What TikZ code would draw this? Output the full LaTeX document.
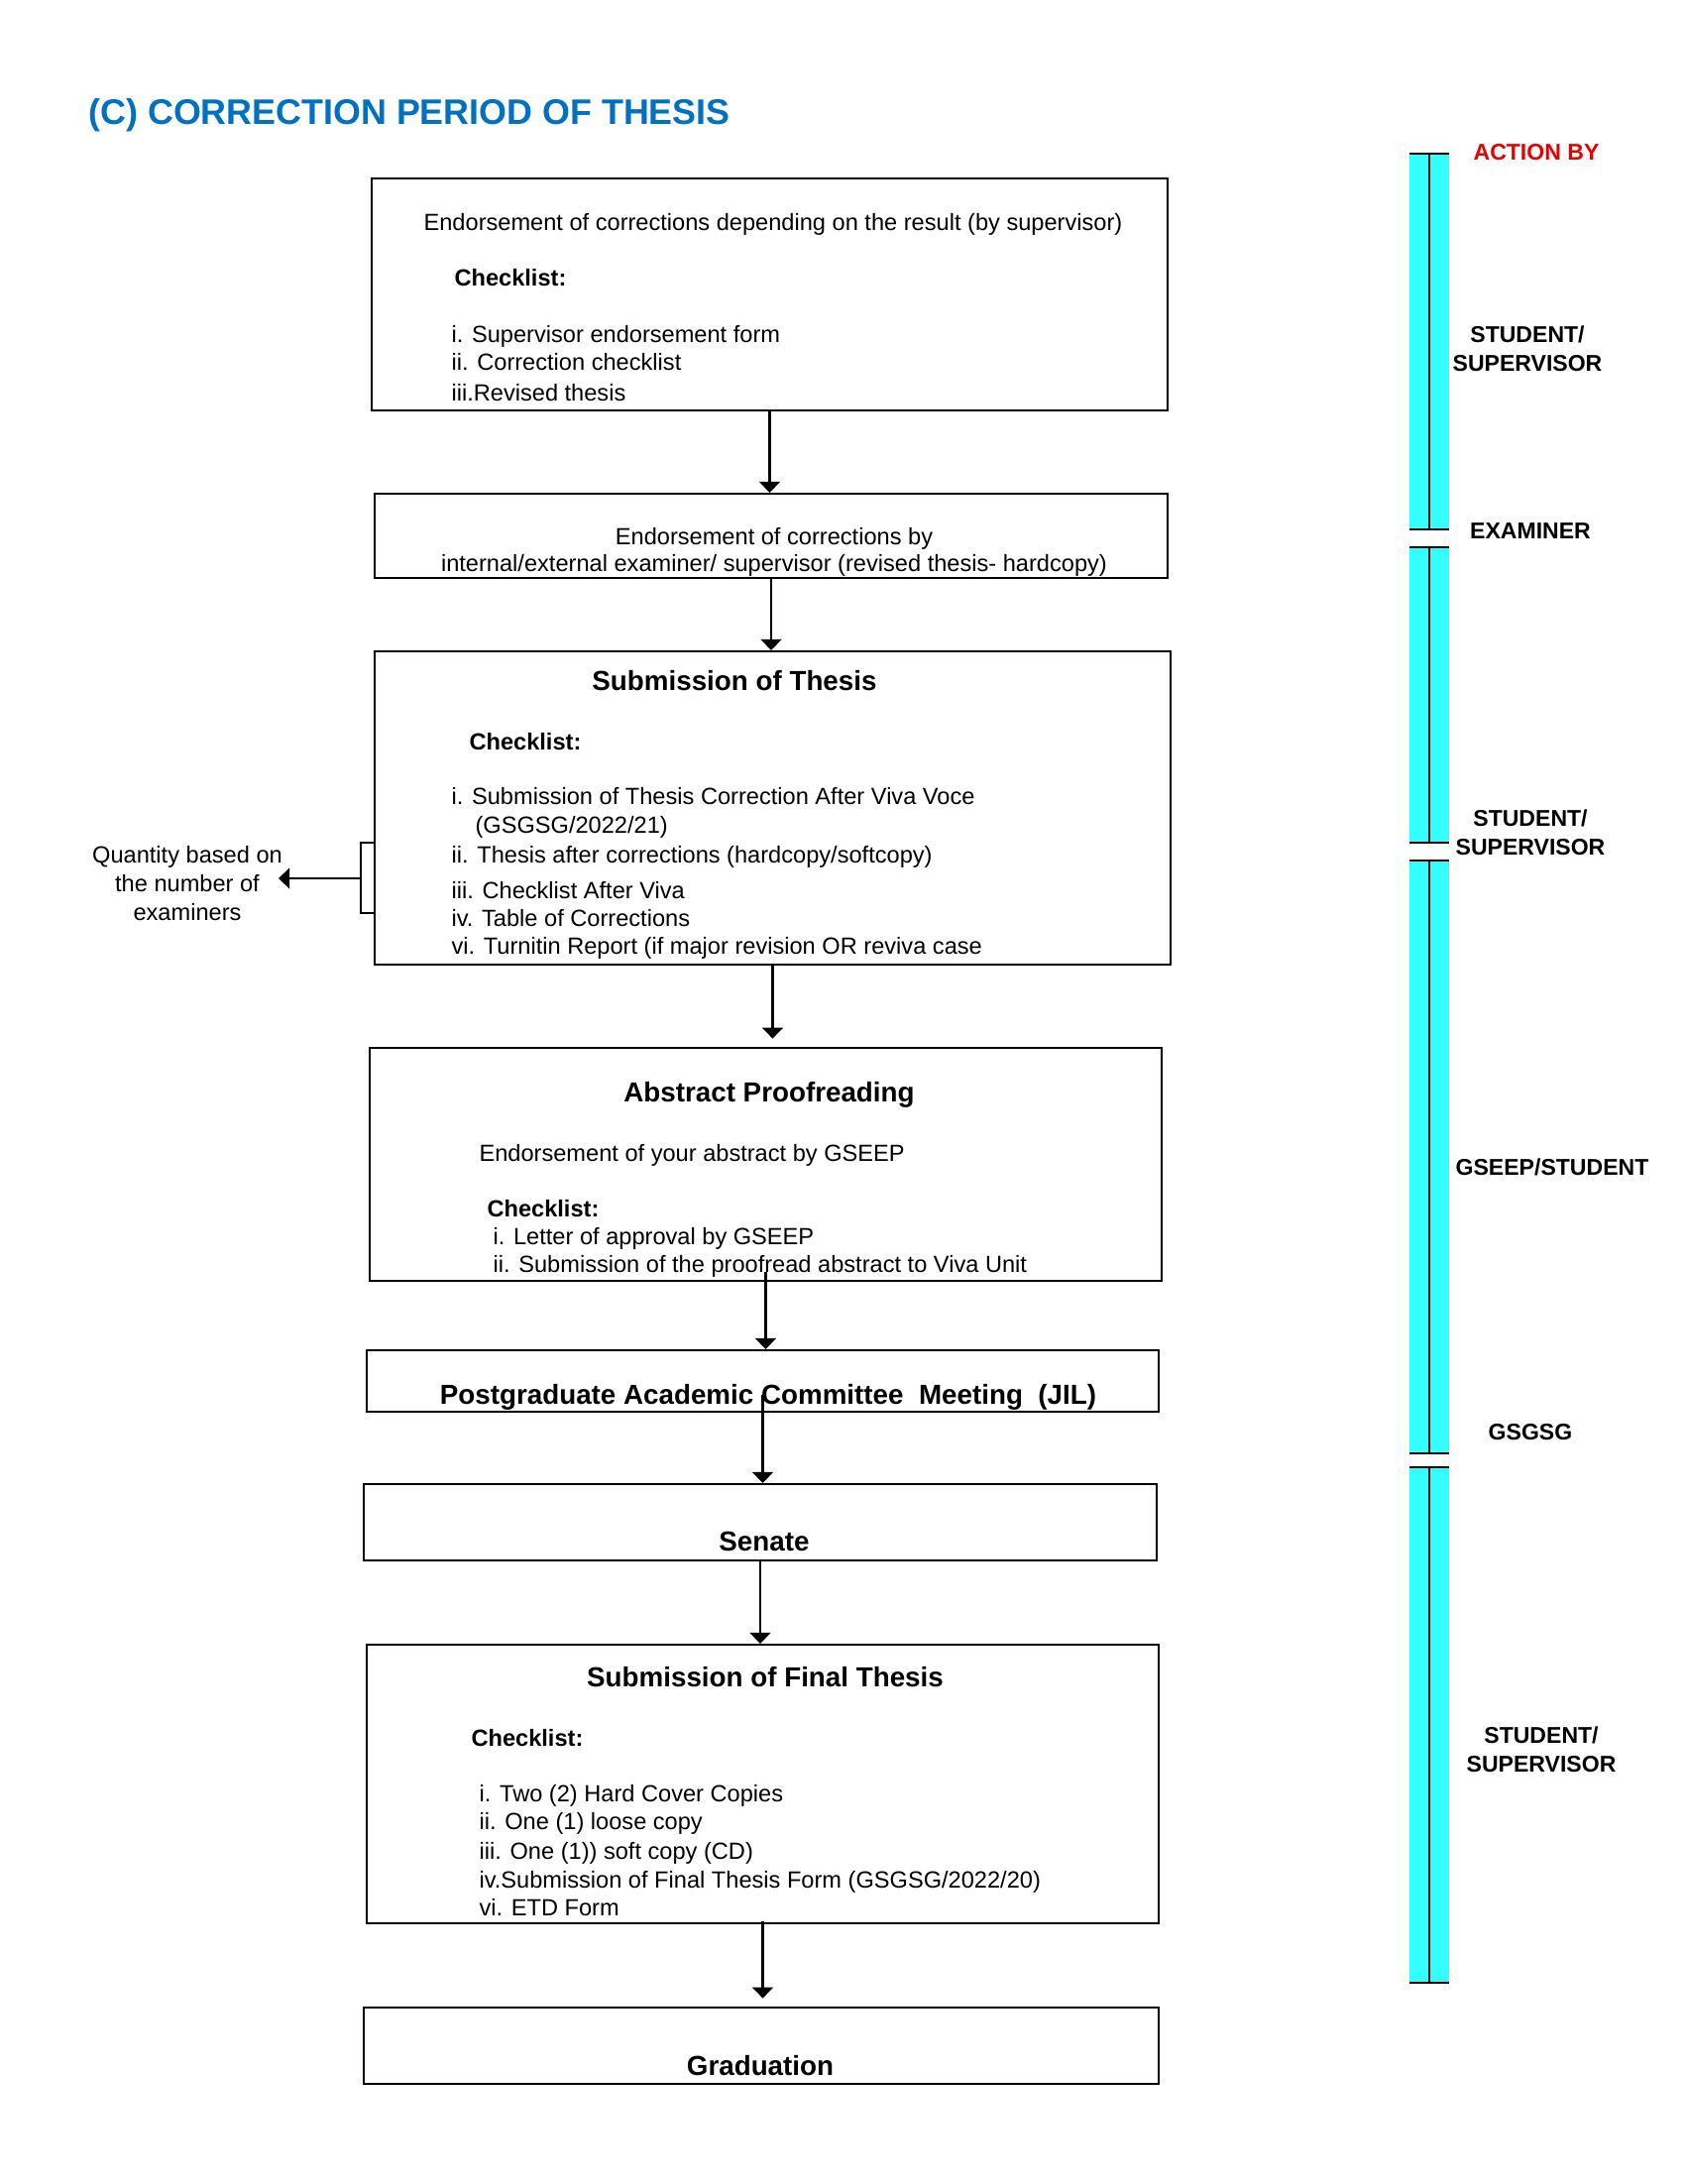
\documentclass[tikz,border=0pt]{standalone}
\usepackage{fontspec}
\setmainfont{Liberation Sans}
\usetikzlibrary{arrows.meta,fit}
\definecolor{titleblue}{RGB}{0,112,192}
\definecolor{actred}{RGB}{226,0,0}
\definecolor{barcyan}{RGB}{51,255,255}

\begin{document}
\begin{tikzpicture}
  [x=0.36pt,y=-0.36pt,
   every node/.style={inner sep=0pt,font=\fontsize{8.5}{10.4}\selectfont},
   box/.style={draw,line width=0.75pt},
   head/.style={anchor=mid,font=\fontsize{10}{12}\selectfont\bfseries},
   chk/.style={anchor=mid west,font=\fontsize{8.5}{10.4}\selectfont\bfseries},
   item/.style={anchor=mid west},
   line/.style={anchor=mid},
   actor/.style={align=center,font=\fontsize{8.3}{10.4}\selectfont\bfseries},
   arr/.style={-{Triangle[width=7.5pt,length=4pt]},line width=0.9pt}]
\useasboundingbox (0,0) rectangle (1700,2203);

\node [anchor=base west,text=titleblue,font=\fontsize{12.9}{15}\selectfont\bfseries]
  (title) at (89,125) {(C) CORRECTION PERIOD OF THESIS};

% action by column
\foreach \a/\b in {155/534,552/850,868/1466,1480/2000} {
  \fill [barcyan] (1422,\a) rectangle (1462,\b);
  \draw [line width=0.8pt] (1422,\a) -- (1462,\a) (1442,\a) -- (1442,\b)
                           (1422,\b) -- (1462,\b);
}
\node [actor,text=actred] (actby) at (1550,154) {ACTION BY};
\node [actor] (act1) at (1541,352)  {STUDENT/\\SUPERVISOR};
\node [actor] (act2) at (1544,536)  {EXAMINER};
\node [actor] (act3) at (1544,840)  {STUDENT/\\SUPERVISOR};
\node [actor] (act4) at (1566,1177) {GSEEP/STUDENT};
\node [actor] (act5) at (1544,1445) {GSGSG};
\node [actor] (act6) at (1555,1765) {STUDENT/\\SUPERVISOR};

% boxes
\node [box,fit={(375,180) (1178,414)}]   (box1) {};
\node [box,fit={(378,498) (1178,583)}]   (box2) {};
\node [box,fit={(378,657) (1181,973)}]   (box3) {};
\node [box,fit={(373,1057) (1172,1292)}] (box4) {};
\node [box,fit={(370,1362) (1169,1424)}] (box5) {};
\node [box,fit={(367,1497) (1167,1574)}] (box6) {};
\node [box,fit={(370,1659) (1169,1940)}] (box7) {};
\node [box,fit={(367,2025) (1169,2102)}] (box8) {};

\node [line] (end1) at (780,225) {Endorsement of corrections depending on the result (by supervisor)};
\node [chk]  (chk1) at (458,281) {Checklist:};
\node [item] (i11)  at (455,338) {i. Supervisor endorsement form};
\node [item] (i12)  at (455,366) {ii. Correction checklist};
\node [item] (i13)  at (455,397) {iii.Revised thesis};

\node [line] (end2a) at (781,542) {Endorsement of corrections by};
\node [line] (end2b) at (781,569) {internal/external examiner/ supervisor (revised thesis- hardcopy)};

\node [head] (head3) at (741,689) {Submission of Thesis};
\node [chk]  (chk3)  at (473,749) {Checklist:};
\node [item] (i31)   at (455,804) {i. Submission of Thesis Correction After Viva Voce};
\node [item] (i31b)  at (479,833) {(GSGSG/2022/21)};
\node [item] (i32)   at (455,863) {ii. Thesis after corrections (hardcopy/softcopy)};
\node [item] (i33)   at (455,899) {iii. Checklist After Viva};
\node [item] (i34)   at (455,927) {iv. Table of Corrections};
\node [item] (i36)   at (455,955) {vi. Turnitin Report (if major revision OR reviva case};

\node [head] (head4) at (776,1104) {Abstract Proofreading};
\node [item] (end4)  at (483,1164) {Endorsement of your abstract by GSEEP};
\node [chk]  (chk4)  at (491,1220) {Checklist:};
\node [item] (i41)   at (497,1248) {i. Letter of approval by GSEEP};
\node [item] (i42)   at (497,1276) {ii. Submission of the proofread abstract to Viva Unit};

\node [head] (head5) at (775,1409) {Postgraduate Academic Committee\ \ Meeting\ \ (JIL)};
\node [head] (head6) at (771,1557) {Senate};

\node [head] (head7) at (772,1694) {Submission of Final Thesis};
\node [chk]  (chk7)  at (475,1754) {Checklist:};
\node [item] (i71)   at (483,1810) {i. Two (2) Hard Cover Copies};
\node [item] (i72)   at (483,1838) {ii. One (1) loose copy};
\node [item] (i73)   at (483,1868) {iii. One (1)) soft copy (CD)};
\node [item] (i74)   at (483,1897) {iv.Submission of Final Thesis Form (GSGSG/2022/20)};
\node [item] (i76)   at (483,1925) {vi. ETD Form};

\node [head] (head8) at (767,2086) {Graduation};

% flow
\draw [arr] (box1.south) -- (box1.south |- box2.north);
\draw [arr] (box2.south) -- (box2.south |- box3.north);
\draw [arr,shorten >=3pt] (box3.south) -- (box3.south |- box4.north);
\draw [arr,shorten <=-3.6pt] (box4.south) -- (box4.south |- box5.north);
\draw [arr,shorten <=-6.5pt] (box5.south) -- (box5.south |- box6.north);
\draw [arr] (box6.south) -- (box6.south |- box7.north);
\draw [arr,shorten <=-1pt,shorten >=3pt] (box7.south) -- (box7.south |- box8.north);

% quantity note
\coordinate (brtop) at (364,850);
\coordinate (brbot) at (364,921);
\coordinate (brmid) at (364,886);
\coordinate (qtip)  at (281,886);
\draw [line width=0.75pt] (box3.west |- brtop) -- (brtop) -- (brbot) -- (box3.west |- brbot);
\draw [arr,line width=0.75pt] (brmid) -- (qtip);
\node [align=center] (qty) at (189,891) {Quantity based on\\the number of\\examiners};
\end{tikzpicture}
\end{document}
